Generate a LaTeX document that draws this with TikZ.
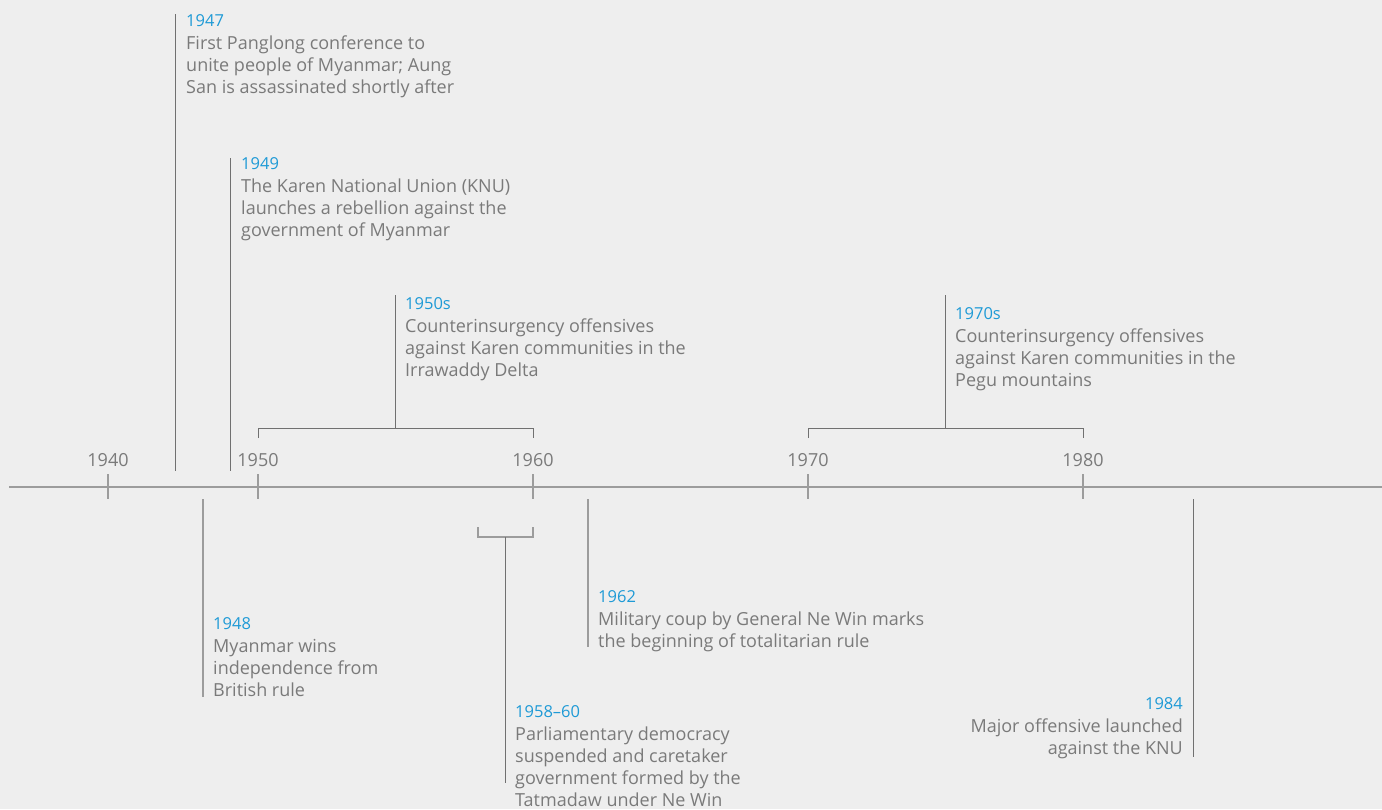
\documentclass[tikz,border=0pt]{standalone}
\usepackage{fontspec}
\setmainfont{Open Sans}
\definecolor{bgc}{HTML}{EEEEEE}
\definecolor{txtc}{HTML}{7A7A7A}
\definecolor{yrc}{HTML}{1E9AD6}
\definecolor{lnc}{HTML}{707070}
\definecolor{axc}{HTML}{9C9C9C}
\newcommand\yrtxt[1]{{\fontsize{16.5}{22}\selectfont\textcolor{yrc}{#1}}\\[1pt]}
\begin{document}
\begin{tikzpicture}[x=1pt,y=-1pt,
  evtext/.style={anchor=north west, inner sep=0pt, align=left, font=\fontsize{18}{22}\selectfont, text=txtc},
  evtextr/.style={anchor=north east, inner sep=0pt, align=right, font=\fontsize{18}{22}\selectfont, text=txtc},
  axlabel/.style={anchor=center, inner sep=0pt, font=\fontsize{18}{20}\selectfont, text=txtc},
  leader/.style={draw=lnc, line width=1pt},
  leaderlight/.style={draw=axc, line width=1.3pt},
  axisline/.style={draw=axc, line width=1.3pt},
  tickline/.style={draw=axc, line width=1.3pt}]
\useasboundingbox (0,0) rectangle (1382,809);
\fill[bgc] (0,0) rectangle (1382,809);

% axis
\coordinate (axL) at (9,487);
\coordinate (axR) at (1382,487);
\draw[axisline] (axL) -- (axR);
\foreach \x/\lab in {108/1940,258/1950,533/1960,808/1970,1083/1980}{
  \coordinate (tt\lab) at (\x,474);
  \coordinate (tb\lab) at (\x,499);
  \draw[tickline] (tt\lab) -- (tb\lab);
  \node[axlabel] (lab\lab) at (\x,460) {\lab};
}

% 1947
\coordinate (l47t) at (175,14);
\coordinate (l47b) at (175,471);
\draw[leader] (l47t) -- (l47b);
\node[evtext] (e47) at (186,14) {\yrtxt{1947}First Panglong conference to\\unite people of Myanmar; Aung\\San is assassinated shortly after};

% 1949
\coordinate (l49t) at (230,158);
\coordinate (l49b) at (230,471);
\draw[leader] (l49t) -- (l49b);
\node[evtext] (e49) at (241,157) {\yrtxt{1949}The Karen National Union (KNU)\\launches a rebellion against the\\government of Myanmar};

% 1950s bracket
\coordinate (b50a) at (258,438);
\coordinate (b50b) at (533,438);
\coordinate (b50m) at (395,428);
\coordinate (b50t) at (395,295);
\draw[leader] (b50a) -- (258,428) -- (533,428) -- (b50b);
\draw[leader] (b50m) -- (b50t);
\node[evtext] (e50s) at (405,297) {\yrtxt{1950s}Counterinsurgency offensives\\against Karen communities in the\\Irrawaddy Delta};

% 1970s bracket
\coordinate (b70a) at (808,438);
\coordinate (b70b) at (1083,438);
\coordinate (b70m) at (945,428);
\coordinate (b70t) at (945,295);
\draw[leader] (b70a) -- (808,428) -- (1083,428) -- (b70b);
\draw[leader] (b70m) -- (b70t);
\node[evtext] (e70s) at (955,307) {\yrtxt{1970s}Counterinsurgency offensives\\against Karen communities in the\\Pegu mountains};

% 1948
\coordinate (l48t) at (203,499);
\coordinate (l48b) at (203,697);
\draw[leaderlight] (l48t) -- (l48b);
\node[evtext] (e48) at (213,617) {\yrtxt{1948}Myanmar wins\\independence from\\British rule};

% 1958-60 bracket
\coordinate (b58a) at (478,527);
\coordinate (b58b) at (533,527);
\coordinate (b58m) at (505,537);
\coordinate (b58e) at (505,783);
\draw[leaderlight] (b58a) -- (478,537) -- (533,537) -- (b58b);
\draw[leader] (b58m) -- (b58e);
\node[evtext] (e58) at (515,705) {\yrtxt{1958--60}Parliamentary democracy\\suspended and caretaker\\government formed by the\\Tatmadaw under Ne Win};

% 1962
\coordinate (l62t) at (588,499);
\coordinate (l62b) at (588,647);
\draw[leaderlight] (l62t) -- (l62b);
\node[evtext] (e62) at (598,590) {\yrtxt{1962}Military coup by General Ne Win marks\\the beginning of totalitarian rule};

% 1984
\coordinate (l84t) at (1193,499);
\coordinate (l84b) at (1193,757);
\draw[leader] (l84t) -- (l84b);
\node[evtextr] (e84) at (1183,697) {\yrtxt{1984}Major offensive launched\\against the KNU};
\end{tikzpicture}
\end{document}
